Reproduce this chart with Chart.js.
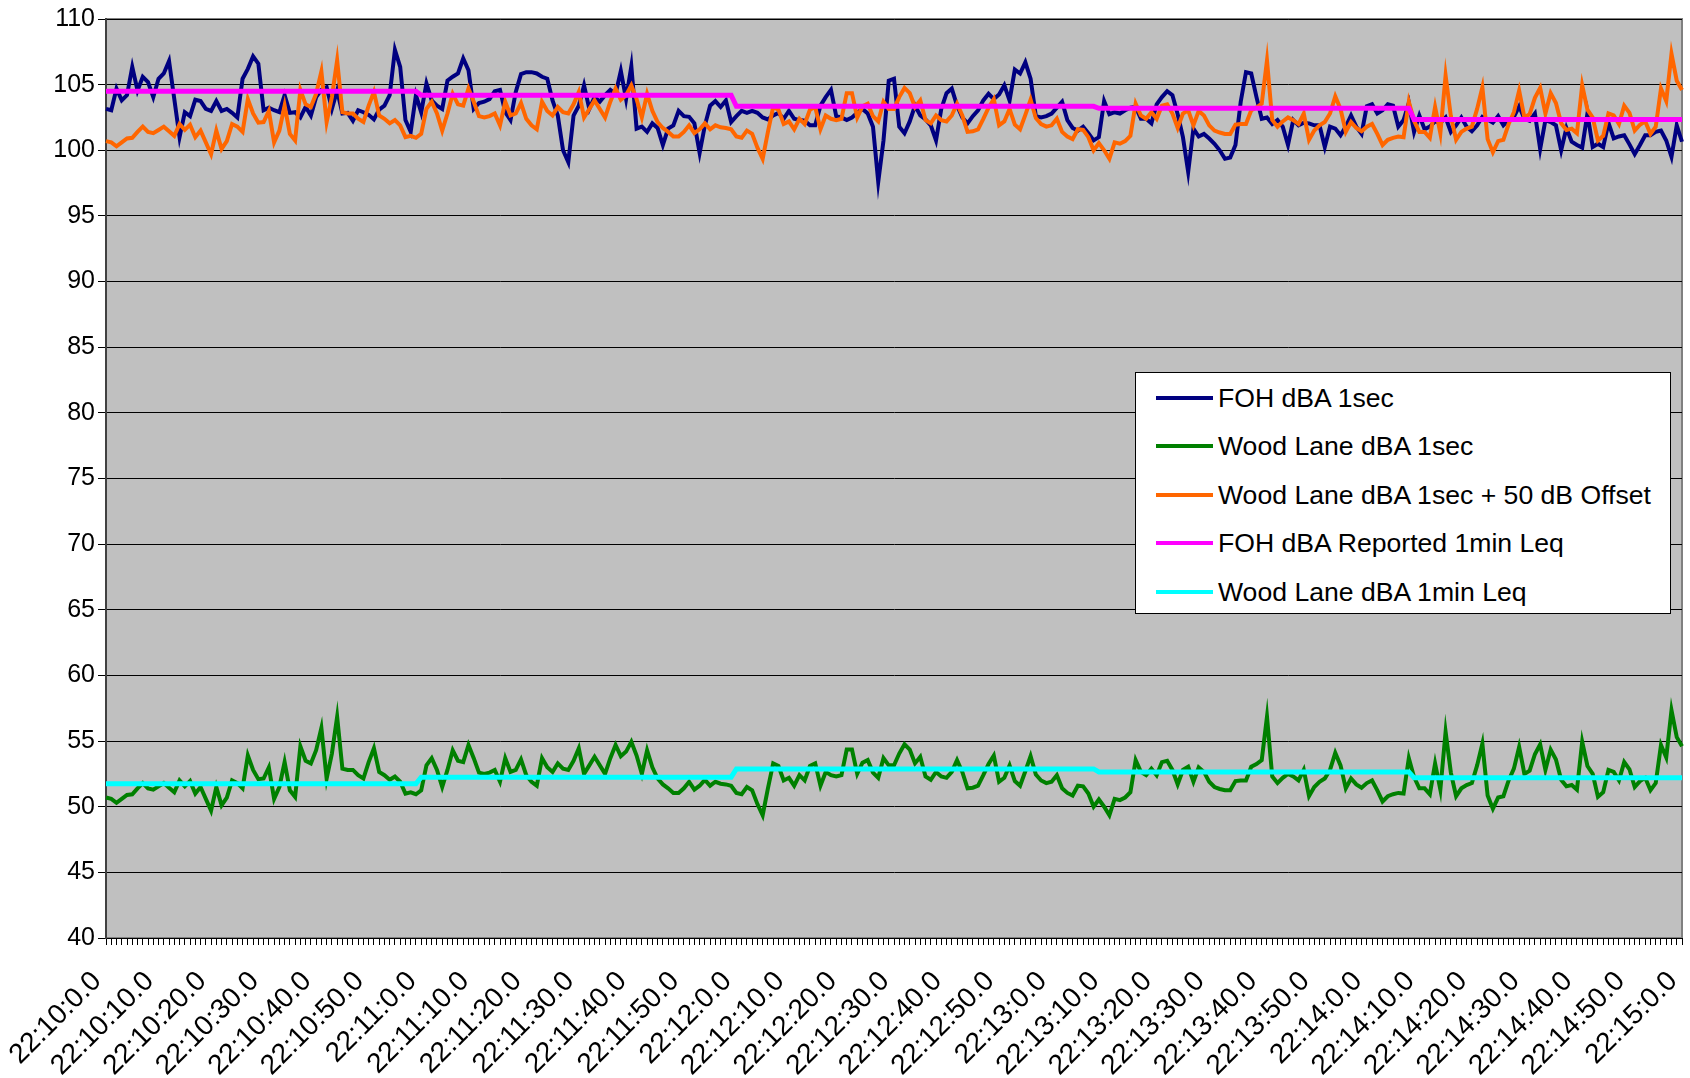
<!DOCTYPE html>
<html>
<head>
<meta charset="utf-8">
<title>FOH vs Wood Lane dBA</title>
<script src="https://cdn.jsdelivr.net/npm/chart.js@4.4.0/dist/chart.umd.min.js"></script>
<style>
  html, body { margin: 0; padding: 0; background: #fff; }
  #wrap { position: relative; width: 1690px; height: 1078px; }
  #legend {
    position: absolute; left: 1135px; top: 372px; width: 536px; height: 242px;
    background: #fff; border: 1px solid #000; box-sizing: border-box;
    font-family: "Liberation Sans", Arial, sans-serif; font-size: 26.6px; color: #000;
  }
  .row { position: absolute; left: 0; height: 30px; line-height: 30px; white-space: nowrap; }
  .swatch { position: absolute; left: 20px; top: 13px; width: 57px; height: 4px; }
  .label { position: absolute; left: 82px; top: 0; }
</style>
</head>
<body>
<div id="wrap">
  <canvas id="chart" width="1690" height="1078"></canvas>
  <div id="legend"></div>
</div>
<script>
// ── Data ─────────────────────────────────────────────────────
// one reading per second, 22:10:00 → 22:15:00
const startMinute = 10;
const seconds = 301;

const fohDba = [
  103.15, 103.05, 104.7, 103.8, 104.2, 106.35, 104.55, 105.6, 105.2, 104.05,
  105.45, 105.85, 106.8, 103.9, 101.0, 102.9, 102.6, 103.85, 103.75, 103.15,
  103.0, 103.75, 103.0, 103.15, 102.85, 102.5, 105.45, 106.2, 107.15, 106.6,
  103.05, 103.25, 103.05, 102.9, 104.2, 102.85, 102.9, 102.5, 103.3, 102.65,
  104.05, 104.6, 104.8, 103.15, 104.55, 102.8, 102.85, 102.25, 103.05, 102.9,
  102.7, 102.35, 103.1, 103.4, 104.2, 107.65, 106.35, 102.3, 101.4, 104.2,
  102.9, 105.1, 103.8, 103.4, 103.15, 105.3, 105.6, 105.85, 107.0, 106.1,
  103.15, 103.6, 103.7, 103.9, 104.5, 104.6, 102.9, 102.3, 104.45, 105.8,
  105.95, 105.95, 105.85, 105.6, 105.45, 103.8, 102.65, 100.0, 99.1, 102.65,
  103.4, 104.95, 103.15, 104.05, 103.7, 104.2, 104.6, 104.3, 106.05, 103.9,
  106.4, 101.65, 101.8, 101.4, 102.05, 101.7, 100.4, 101.65, 101.9, 103.0,
  102.6, 102.55, 102.05, 99.8, 101.9, 103.4, 103.75, 103.3, 103.8, 102.15,
  102.6, 103.0, 102.85, 103.0, 102.85, 102.5, 102.35, 102.65, 102.85, 102.4,
  103.0, 102.4, 102.3, 102.25, 101.9, 101.9, 103.4, 104.05, 104.6, 102.6,
  102.5, 102.3, 102.5, 102.85, 103.15, 102.8, 101.8, 97.6, 100.75, 105.3,
  105.45, 101.8, 101.3, 102.2, 103.4, 102.65, 102.35, 101.9, 100.75, 103.15,
  104.35, 104.7, 103.4, 102.5, 102.05, 102.6, 103.05, 103.8, 104.3, 103.9,
  104.25, 104.95, 103.8, 106.15, 105.85, 106.7, 105.45, 102.6, 102.5, 102.6,
  102.8, 103.25, 103.7, 102.3, 101.7, 101.5, 101.8, 101.3, 100.75, 101.0,
  103.75, 102.75, 102.9, 102.8, 103.05, 103.25, 103.3, 102.4, 102.4, 102.05,
  103.5, 104.05, 104.5, 104.2, 102.75, 101.0, 98.35, 101.65, 101.05, 101.25,
  100.9, 100.5, 100.0, 99.35, 99.45, 100.4, 103.7, 105.95, 105.85, 104.05,
  102.4, 102.5, 102.0, 102.3, 101.8, 100.4, 102.3, 101.9, 102.1, 102.05,
  101.9, 101.9, 100.25, 101.8, 101.65, 101.15, 101.8, 102.65, 101.8, 101.25,
  103.35, 103.5, 102.8, 103.05, 103.5, 103.4, 101.8, 102.3, 103.6, 101.4,
  102.65, 101.6, 101.8, 102.2, 102.1, 102.5, 101.4, 101.9, 102.5, 101.8,
  101.45, 101.9, 102.55, 102.35, 102.1, 102.6, 101.9, 102.3, 102.55, 103.35,
  102.4, 102.25, 102.8, 100.1, 102.3, 102.15, 101.9, 100.0, 101.7, 100.65,
  100.4, 100.2, 102.8, 100.25, 100.5, 100.25, 102.1, 100.9, 101.05, 101.15,
  100.45, 99.7, 100.4, 101.15, 101.15, 101.4, 101.5, 100.75, 99.5, 101.9,
  100.65
];

const woodLaneDba = [
  50.7, 50.6, 50.3, 50.6, 50.9, 50.95, 51.4, 51.8, 51.4, 51.3,
  51.55, 51.8, 51.45, 51.1, 52.0, 51.55, 51.95, 51.0, 51.5, 50.6,
  49.7, 51.5, 50.1, 50.7, 52.0, 51.8, 51.4, 53.9, 52.8, 52.1,
  52.15, 53.0, 50.6, 51.5, 53.4, 51.25, 50.75, 54.6, 53.5, 53.3,
  54.3, 56.0, 52.15, 54.05, 56.85, 52.9, 52.8, 52.8, 52.4, 52.15,
  53.4, 54.45, 52.65, 52.4, 52.05, 52.3, 51.9, 51.0, 51.1, 50.95,
  51.25, 53.15, 53.7, 52.8, 51.5, 52.8, 54.3, 53.5, 53.4, 54.7,
  53.7, 52.6, 52.5, 52.6, 52.8, 51.9, 53.7, 52.65, 52.8, 53.6,
  52.4, 51.9, 51.6, 53.7, 53.0, 52.65, 53.3, 52.9, 52.8, 53.5,
  54.45, 52.5, 53.15, 53.8, 53.15, 52.5, 53.7, 54.7, 53.85, 54.2,
  54.95, 53.9, 52.5, 54.3, 53.0, 52.15, 51.7, 51.4, 51.05, 51.05,
  51.4, 51.9, 51.3, 51.6, 52.05, 51.6, 51.9, 51.75, 51.7, 51.6,
  51.05, 50.95, 51.5, 51.25, 50.2, 49.35, 51.4, 53.3, 53.1, 52.0,
  52.2, 51.6, 52.4, 52.0, 53.1, 53.3, 51.6, 52.65, 52.4, 52.3,
  52.4, 54.35, 54.35, 52.5, 53.35, 53.55, 52.6, 52.2, 53.7, 53.15,
  53.15, 54.05, 54.75, 54.35, 53.3, 53.8, 52.3, 52.05, 52.65, 52.3,
  52.2, 52.65, 53.55, 52.65, 51.4, 51.45, 51.6, 52.4, 53.25, 53.9,
  51.9, 52.2, 53.15, 51.95, 51.6, 52.7, 53.85, 52.45, 52.0, 51.8,
  51.9, 52.4, 51.4, 51.05, 50.85, 51.6, 51.55, 51.0, 50.0, 50.55,
  50.0, 49.35, 50.6, 50.5, 50.7, 51.1, 53.55, 52.65, 52.4, 52.9,
  52.4, 53.4, 53.5, 52.8, 51.7, 52.8, 53.05, 51.9, 53.0, 52.65,
  51.9, 51.5, 51.35, 51.25, 51.25, 51.95, 52.0, 52.0, 53.05, 53.25,
  53.55, 56.85, 52.3, 51.8, 52.2, 52.5, 52.3, 52.0, 52.8, 50.8,
  51.5, 51.9, 52.15, 52.8, 54.1, 53.15, 51.4, 52.15, 51.7, 51.45,
  51.8, 52.0, 51.25, 50.4, 50.8, 50.95, 51.05, 51.0, 53.7, 52.25,
  51.4, 51.4, 50.95, 53.3, 51.3, 55.7, 52.6, 50.8, 51.4, 51.65,
  51.8, 53.15, 54.8, 50.85, 49.85, 50.7, 50.8, 52.0, 52.9, 54.55,
  52.5, 52.75, 54.0, 54.75, 52.8, 54.35, 53.6, 52.05, 51.55, 51.65,
  51.3, 54.95, 53.1, 52.5, 50.75, 51.1, 52.8, 52.65, 52.0, 53.4,
  52.85, 51.5, 51.95, 52.2, 51.25, 51.8, 54.7, 53.75, 57.35, 55.3,
  54.6
];

const woodLaneOffset = 50; // dB added for the overlay series

// 1-minute Leq blocks: index of first second in each block, and its level
const leqStarts = [0, 60, 120, 189, 249];
const fohLeq = [104.5, 104.2, 103.35, 103.2, 102.35];
const woodLaneLeq = [51.75, 52.25, 52.88, 52.65, 52.2];

const yMin = 40, yMax = 110, yStep = 5;
const labelEvery = 10;

// ── Helpers ──────────────────────────────────────────────────
function timeLabel(s) {
    const m = startMinute + Math.floor(s / 60);
    return "22:" + m + ":" + (s % 60) + ".0";
}

function expandLeq(levels) {
    const out = [];
    for (let s = 0; s < seconds; s++) {
        let k = 0;
        while (k + 1 < leqStarts.length && s >= leqStarts[k + 1]) k++;
        out.push(levels[k]);
    }
    return out;
}

const labels = Array.from({ length: seconds }, (_, s) => timeLabel(s));

const series = [
    { label: "FOH dBA 1sec", data: fohDba, color: "#000080", width: 4, order: 5 },
    { label: "Wood Lane dBA 1sec", data: woodLaneDba, color: "#008000", width: 4, order: 4 },
    { label: "Wood Lane dBA 1sec + 50 dB Offset", data: woodLaneDba.map(v => v + woodLaneOffset), color: "#ff6600", width: 4, order: 3 },
    { label: "FOH dBA Reported 1min Leq", data: expandLeq(fohLeq), color: "#ff00ff", width: 5, order: 2 },
    { label: "Wood Lane dBA 1min Leq", data: expandLeq(woodLaneLeq), color: "#00ffff", width: 5, order: 1 }
];

// ── Plot area background ─────────────────────────────────────
const plotBackground = {
    id: "plotBackground",
    beforeDraw(chart) {
        const { ctx, chartArea: a } = chart;
        ctx.save();
        ctx.fillStyle = "#c0c0c0";
        ctx.fillRect(a.left, a.top, a.right - a.left, a.bottom - a.top);
        ctx.strokeStyle = "#808080";
        ctx.lineWidth = 2;
        ctx.strokeRect(a.left, a.top, a.right - a.left, a.bottom - a.top);
        ctx.restore();
    }
};

const fontFamily = "'Liberation Sans', Arial, sans-serif";

new Chart(document.getElementById("chart"), {
    type: "line",
    data: {
        labels,
        datasets: series.map(s => ({
            label: s.label,
            data: s.data,
            borderColor: s.color,
            backgroundColor: s.color,
            borderWidth: s.width,
            pointRadius: 0,
            tension: 0,
            fill: false,
            order: s.order
        }))
    },
    options: {
        responsive: false,
        animation: false,
        events: [],
        layout: { padding: { top: 19, right: 8, left: 0, bottom: 0 } },
        plugins: { legend: { display: false }, tooltip: { enabled: false } },
        scales: {
            x: {
                type: "category",
                offset: false,
                afterFit(scale) {
                    scale.height = 140;
                    scale.paddingLeft = 0;
                    scale.paddingRight = 0;
                },
                border: { display: true, color: "#000", width: 1 },
                grid: { drawOnChartArea: false, drawTicks: true, tickLength: 7, color: "#000" },
                ticks: {
                    autoSkip: false,
                    maxRotation: 45,
                    minRotation: 45,
                    padding: 20,
                    labelOffset: -9,
                    color: "#000",
                    font: { family: fontFamily, size: 28 },
                    callback: (v, i) => (i % labelEvery === 0 ? labels[i] : "")
                }
            },
            y: {
                min: yMin,
                max: yMax,
                afterFit(scale) { scale.width = 106; },
                border: { display: true, color: "#404040", width: 2 },
                grid: { color: "#000", lineWidth: 1, tickLength: 8 },
                ticks: { stepSize: yStep, padding: 3, color: "#000", font: { family: fontFamily, size: 25 } }
            }
        }
    },
    plugins: [plotBackground]
});

// ── Legend box ───────────────────────────────────────────────
const rowCenters = [25, 73, 122, 170, 219];
const legendEl = document.getElementById("legend");
series.forEach((s, i) => {
    const row = document.createElement("div");
    row.className = "row";
    row.style.top = (rowCenters[i] - 15) + "px";
    row.innerHTML = '<span class="swatch" style="background:' + s.color + '"></span>' +
        '<span class="label">' + s.label + '</span>';
    legendEl.appendChild(row);
});
</script>
</body>
</html>
